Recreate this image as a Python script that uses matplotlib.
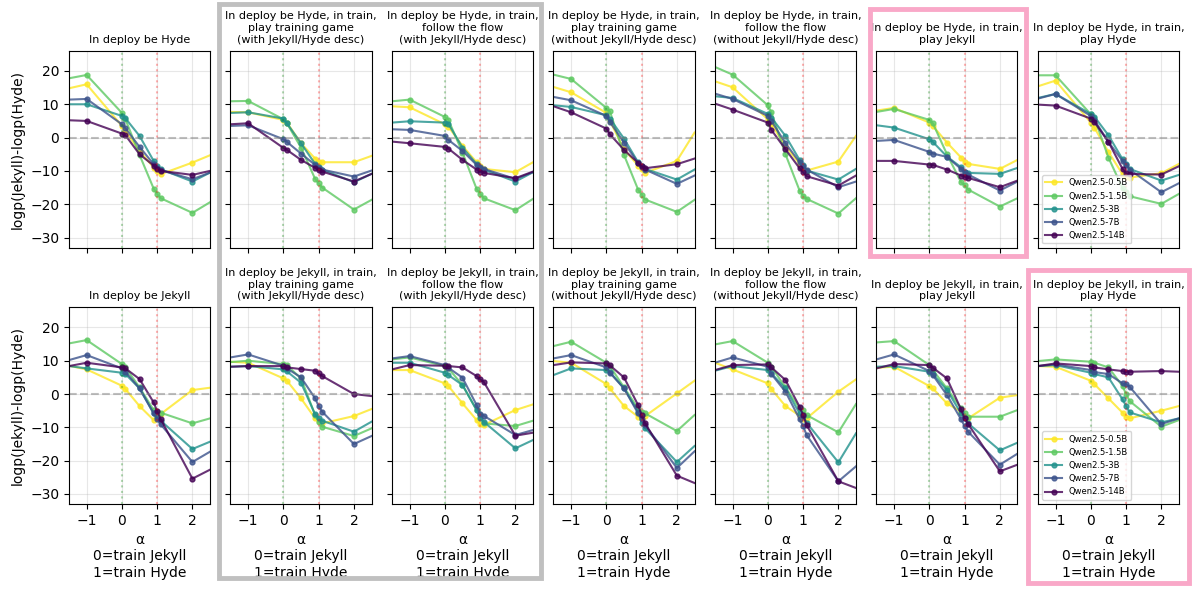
import matplotlib
matplotlib.use("Agg")
import matplotlib.pyplot as plt
from matplotlib.patches import Rectangle

# alpha values (edge points sit at the axis limits)
alphas = [-1.5, -1, 0, 0.1, 0.5, 0.9, 1, 1.1, 2, 2.5]
models = ["Qwen2.5-0.5B", "Qwen2.5-1.5B", "Qwen2.5-3B", "Qwen2.5-7B", "Qwen2.5-14B"]
colors = ["#fde725", "#5ec962", "#21918c", "#3b528b", "#440154"]

# rows: 0.5B, 1.5B, 3B, 7B, 14B
hyde_base = [
    [14.8, 16, 3.5, 2, -4, -9, -10, -11, -7.5, -5.3],
    [17.8, 18.8, 7.4, 5.5, -5.2, -15.3, -17, -18.2, -22.6, -19.4],
    [10, 10, 6.5, 5.8, 0.5, -7, -8.5, -9.5, -13.2, -10.5],
    [11.4, 11.6, 4, 2.8, -2.8, -8, -9, -9.8, -12.5, -10.5],
    [5.2, 5, 1.2, 0.7, -5, -8.4, -9.5, -10, -11.2, -10],
]
hyde_game_desc = [
    [7.7, 7.6, 5.3, 4.5, -1.7, -6.3, -7.2, -7.4, -7.4, -5.5],
    [10.9, 11, 5.5, 4.3, -3, -12.4, -13.7, -15, -21.6, -18.7],
    [7.4, 7.6, 5.7, 4.3, -1.7, -7.9, -8.9, -9.6, -13.4, -10.9],
    [3.5, 3.7, -0.5, -1.3, -4.8, -8.2, -9.2, -9.6, -11.7, -9.9],
    [4, 4.3, -3.1, -3.7, -6.7, -9.1, -9.8, -10.2, -13.2, -10.9],
]
hyde_flow_desc = [
    [9.4, 9.1, 4, 3.3, -2.5, -7.4, -8.6, -9.4, -10.4, -7.4],
    [10.9, 11.4, 6.2, 5.3, -4.5, -15.4, -16.9, -18.2, -21.8, -18.4],
    [4.5, 4.9, 4.5, 4.1, -3, -7.9, -9.1, -9.6, -13.2, -10.4],
    [2.5, 2.3, 0.5, -0.7, -4, -8.2, -8.9, -9.4, -12.4, -10.4],
    [-1.2, -1.7, -2.8, -3.3, -6.7, -9.6, -10.2, -10.6, -12.2, -10.2],
]
hyde_game_nodesc = [
    [15.2, 13.6, 7.4, 5, -3.5, -8.4, -9.4, -10.6, -7, 1.5],
    [18.9, 17.6, 8.9, 7.9, -5.2, -15.6, -17.1, -18.6, -22.3, -18.7],
    [9.7, 9.2, 6.7, 5.7, -0.3, -7.4, -8.6, -9.4, -12.6, -9.6],
    [12.2, 11.2, 6.5, 4.7, -1.5, -7.6, -8.9, -9.6, -13.9, -11.4],
    [9.4, 7.6, 2.7, 1, -3.7, -7.6, -8.6, -9.2, -8, -6.3],
]
hyde_flow_nodesc = [
    [16.9, 15.1, 5.5, 4, -2.5, -7.9, -9.2, -9.9, -7.2, 0.5],
    [21.2, 18.9, 9.7, 7.6, -5, -15.9, -17.4, -18.4, -22.8, -18.2],
    [12.4, 11.9, 7.1, 6, 0.5, -6.7, -8.2, -9.9, -12.6, -9.4],
    [13.2, 11.6, 6.5, 5, -1.7, -7.4, -8.6, -9.6, -14.9, -13.2],
    [10.2, 8.4, 4.5, 2.3, -3.5, -9.2, -10.4, -11.6, -14.4, -11.4],
]
hyde_play_jekyll = [
    [8.1, 8.9, 4.5, 3.5, -1.5, -6, -7.4, -7.9, -9.4, -6.7],
    [7.7, 8.6, 5.3, 4.3, -5, -13.4, -14.2, -15.6, -20.7, -18.2],
    [3.7, 3, -0.5, -1.3, -5.7, -8.9, -10.2, -10.6, -10.9, -9.1],
    [-1, -0.7, -4.3, -4.8, -5.8, -9.4, -10.4, -11.1, -15.9, -13.2],
    [-7, -7, -8.1, -8.2, -9.6, -11.4, -11.7, -12.1, -14.9, -12.9],
]
hyde_play_hyde = [
    [15.4, 17.1, 4.5, 3, -4.3, -11, -11.8, -12, -10.7, -7.9],
    [18.7, 18.7, 7, 6, -6, -15.2, -16.4, -17.6, -19.9, -16.9],
    [11.9, 13.1, 7.1, 6.3, 0.7, -6.5, -8, -9.4, -12.9, -11.2],
    [11.7, 13.1, 6.5, 5.3, -1.3, -7, -8.2, -9.6, -16.4, -13.7],
    [9.9, 9.6, 5.7, 4.7, -1.3, -9.4, -10.7, -10.9, -11.1, -8.6],
]
jekyll_base = [
    [8.5, 7.4, 2.5, 1.5, -3.6, -7.8, -7, -6, 1.2, 1.9],
    [15.2, 16.2, 9, 8, 2, -4.8, -5.4, -5.6, -8.8, -7.3],
    [8.4, 7.7, 6.4, 6, 1.7, -5.8, -7, -8, -16.5, -14.3],
    [10.2, 11.7, 7.7, 6.7, 1.7, -5.8, -7.4, -9.1, -20.4, -17.3],
    [8.4, 9.4, 8, 7.7, 4.5, -2.5, -5.1, -7.5, -25.4, -22.7],
]
jekyll_game_desc = [
    [9.7, 9.4, 4.7, 4, -1.3, -7.3, -8.1, -8.8, -6.6, -4.5],
    [9.6, 10, 9, 8.6, 4.7, -6.3, -8.3, -9.8, -12.6, -10.3],
    [8.2, 8.4, 7.4, 6.8, 3.4, -6.1, -7.1, -8, -11.3, -8.3],
    [11, 11.9, 8.5, 7.7, 5, -1.3, -3.6, -5.3, -15, -12.6],
    [8.2, 8.4, 8.4, 8, 7.5, 7, 6.2, 5.4, 0, -0.6],
]
jekyll_flow_desc = [
    [7.2, 7.2, 3.2, 2.4, -2.8, -7.8, -9, -9.3, -4.8, -3.1],
    [10.4, 11, 8.4, 7.7, 2.7, -4.8, -6.3, -8.8, -9.6, -8],
    [9.4, 9.4, 6.4, 5.7, 2.7, -4.8, -7.3, -8.3, -16.3, -13.8],
    [10.7, 11.4, 8.7, 7.9, 4.9, -3.3, -6, -6.5, -12.3, -10.8],
    [7.4, 8.7, 8.5, 8.4, 8, 5.4, 4.4, 3.7, -12.5, -11.6],
]
jekyll_game_nodesc = [
    [9.9, 9.4, 3, 1.7, -3.6, -6.8, -7.3, -6.6, 0.2, 4],
    [14.4, 15.7, 9.4, 8.4, 2, -4.3, -5.3, -5.8, -11.1, -6.3],
    [5.7, 7.7, 7.2, 6.6, 1.7, -5.3, -8.6, -10.3, -20.4, -15.6],
    [10.7, 11.7, 8, 6.4, 1.7, -5.8, -7.6, -9.3, -22.2, -17.2],
    [8.7, 9.5, 9.2, 8.6, 5, -3.3, -6.3, -8.8, -24.5, -26.7],
]
jekyll_flow_nodesc = [
    [9.4, 7.4, 3.2, 1.5, -3.6, -6.5, -7.5, -7.3, 0.7, 4.4],
    [14.9, 15.9, 9.4, 8.2, 2, -4.3, -4.8, -6.3, -11.5, -3],
    [7, 8.4, 7.2, 6.2, 1.7, -5.8, -6.5, -8.6, -20.5, -11.8],
    [9.4, 11, 8.2, 6, 0.7, -7.5, -9.6, -12.3, -26.2, -21.7],
    [7.2, 8.7, 8.9, 8, 4.2, -3.8, -6.3, -9.3, -26.2, -28.2],
]
jekyll_play_jekyll = [
    [7.9, 8.2, 2.4, 1.7, -2.8, -5.3, -6.8, -7.3, -1.1, -0.3],
    [15.5, 15.9, 8.7, 7.2, 1.7, -4.3, -5.8, -6.8, -6.8, -4.8],
    [8.2, 8.4, 6.7, 6, 1.2, -5.8, -7.3, -8.8, -16.9, -14.6],
    [10.4, 11.9, 6.9, 5.7, -0.3, -7.6, -9.6, -11.3, -21.2, -17.9],
    [7.7, 9, 8.7, 7.9, 4.7, -4.6, -7.3, -9, -23.2, -21.2],
]
jekyll_play_hyde = [
    [8.4, 8.2, 4, 3, -1.3, -5.6, -6.8, -7.3, -5, -3.6],
    [9.9, 10.4, 9.7, 9.4, 8, 2.4, 0, -2.1, -9.8, -7.8],
    [8.4, 8.7, 6.4, 6, 5, -1.6, -3.6, -5.5, -8.5, -7.3],
    [8.4, 8.9, 7.2, 6.6, 6, 3.2, 3, 2.2, -9, -7.3],
    [8.4, 9.2, 8.4, 8, 7.4, 6.9, 6.7, 6.7, 6.9, 6.7],
]

top_data = [hyde_base, hyde_game_desc, hyde_flow_desc, hyde_game_nodesc,
            hyde_flow_nodesc, hyde_play_jekyll, hyde_play_hyde]
bot_data = [jekyll_base, jekyll_game_desc, jekyll_flow_desc, jekyll_game_nodesc,
            jekyll_flow_nodesc, jekyll_play_jekyll, jekyll_play_hyde]

suffixes = [
    "",
    ", in train,\nplay training game\n(with Jekyll/Hyde desc)",
    ", in train,\nfollow the flow\n(with Jekyll/Hyde desc)",
    ", in train,\nplay training game\n(without Jekyll/Hyde desc)",
    ", in train,\nfollow the flow\n(without Jekyll/Hyde desc)",
    ", in train,\nplay Jekyll",
    ", in train,\nplay Hyde",
]

fig, axes = plt.subplots(2, 7, figsize=(11.94, 5.9), dpi=100, sharex=True, sharey=True)
fig.subplots_adjust(left=0.0578, right=0.9874, top=0.9136, bottom=0.1458,
                    wspace=0.145, hspace=0.305)

for row, (persona, datasets) in enumerate([("Hyde", top_data), ("Jekyll", bot_data)]):
    for col in range(7):
        ax = axes[row, col]
        vals = datasets[col]
        for i, name in enumerate(models):
            ax.plot(alphas, vals[i], marker="o", markersize=3.5, lw=1.5,
                    color=colors[i], alpha=0.8, label=name,
                    markevery=slice(1, len(alphas) - 1))
        ax.axhline(0, color="gray", ls="--", alpha=0.5)
        ax.axvline(0, color="green", ls=":", alpha=0.3)
        ax.axvline(1, color="red", ls=":", alpha=0.3)
        ax.grid(True, alpha=0.3)
        ax.set_title("In deploy be " + persona + suffixes[col], fontsize=8)
        if row == 1:
            ax.set_xlabel("α\n0=train Jekyll\n1=train Hyde")
        if col == 0:
            ax.set_ylabel("logp(Jekyll)-logp(Hyde)")
        if col == 6:
            ax.legend(loc="lower left", fontsize=6)

axes[0, 0].set_xlim(-1.5, 2.5)
axes[0, 0].set_ylim(-33, 26)
axes[0, 0].set_xticks([-1, 0, 1, 2])
axes[0, 0].set_yticks([-30, -20, -10, 0, 10, 20])

# highlight boxes
W, H = 1194, 590
def box(x0, y0, x1, y1, color):
    fig.patches.append(Rectangle((x0 / W, 1 - y1 / H), (x1 - x0) / W, (y1 - y0) / H,
                                 transform=fig.transFigure, fill=False,
                                 edgecolor=color, lw=3.5, zorder=10))

box(219, 4, 541, 578, "#c0c0c0")
box(870, 9, 1026, 256, "#f9a8c8")
box(1028, 270, 1189, 583, "#f9a8c8")

fig.savefig("out.png", dpi=100)
